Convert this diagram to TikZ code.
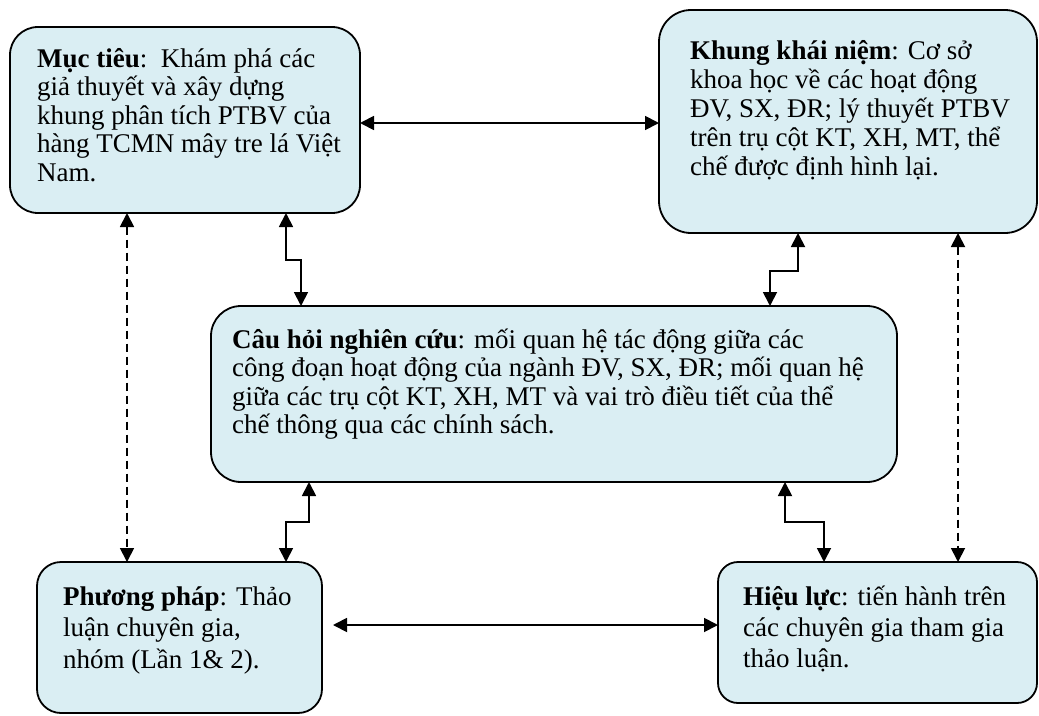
\documentclass[tikz,border=0pt]{standalone}
\usepackage{fontspec}
\setmainfont{Liberation Serif}
\usetikzlibrary{arrows.meta,calc}
\definecolor{boxfill}{HTML}{DAEEF3}
% fixed line pitch inside the text blocks, whatever the accents
\lineskiplimit=-100pt
\lineskip=0pt
\newcommand{\firststrut}{\rule{0pt}{26pt}}
\begin{document}
\begin{tikzpicture}[x=1pt,y=-1pt,
  box/.style={draw=black, line width=1.8pt, fill=boxfill, rounded corners=#1,
    inner sep=0pt, outer sep=0pt, anchor=north west},
  box/.default=28pt,
  txt/.style={inner sep=0pt, anchor=north west, align=left,
    font=\fontsize{27}{28.5}\selectfont},
  link/.style={line width=1.8pt, {Triangle[length=14pt,width=14pt]}-{Triangle[length=14pt,width=14pt]}},
  weaklink/.style={link, dash pattern=on 8pt off 5pt}]
\useasboundingbox (0,0) rectangle (1039,715);

% boxes
\node[box, minimum width=350pt, minimum height=186pt] (goal) at (10,27) {};
\node[box=32pt, minimum width=378pt, minimum height=223pt] (frame) at (659,10) {};
\node[box=30pt, minimum width=686pt, minimum height=176pt] (question) at (211,306) {};
\node[box=24pt, minimum width=285pt, minimum height=151pt] (method) at (37,562) {};
\node[box=20pt, minimum width=319pt, minimum height=141pt] (validity) at (718,562) {};

% texts
\node[txt] (goal-t) at (37,41) {\firststrut\textbf{Mục tiêu}:\ \ Khám phá các\\
  giả thuyết và xây dựng\\ khung phân tích PTBV của\\ hàng TCMN mây tre lá Việt\\ Nam.};
\node[txt, font=\fontsize{27}{29}\selectfont] (frame-t) at (690,33) {\firststrut\textbf{Khung khái niệm}: Cơ sở\\
  khoa học về các hoạt động\\ ĐV, SX, ĐR; lý thuyết PTBV\\ trên trụ cột KT, XH, MT, thể\\
  chế được định hình lại.};
\node[txt] (question-t) at (232,322)
  {\firststrut\textbf{Câu hỏi nghiên cứu}: mối quan hệ tác động giữa các\\
  công đoạn hoạt động của ngành ĐV, SX, ĐR; mối quan hệ\\
  giữa các trụ cột KT, XH, MT và vai trò điều tiết của thể\\
  chế thông qua các chính sách.};
\node[txt, font=\fontsize{27}{31.5}\selectfont] (method-t) at (63,579)
  {\firststrut\textbf{Phương pháp}: Thảo\\ luận chuyên gia,\\ nhóm (Lần 1\& 2).};
\node[txt, font=\fontsize{27}{31}\selectfont] (validity-t) at (743,579)
  {\firststrut\textbf{Hiệu lực}: tiến hành trên\\ các chuyên gia tham gia\\ thảo luận.};

% connectors
\draw[link] ([yshift=-3pt]goal.east) -- ([yshift=-3pt]goal.east -| frame.west);
\draw[link] ($(method.north east)+(11,63)$) coordinate (m-r) -- (m-r -| validity.west);

\draw[weaklink] ([xshift=117pt]goal.south west) coordinate (g-d) -- (g-d |- method.north);
\draw[weaklink] ([xshift=299pt]frame.south west) coordinate (f-d) -- (f-d |- validity.north);

\draw[link] ([xshift=276pt]goal.south west) -- ++(0,47) -| ([xshift=90pt]question.north west);
\draw[link] ([xshift=139pt]frame.south west) -- ++(0,38) -| ([xshift=559pt]question.north west);
\draw[link] ([xshift=98pt]question.south west) -- ++(0,40) -| ([xshift=249pt]method.north west);
\draw[link] ([xshift=574pt]question.south west) -- ++(0,40) -| ([xshift=106pt]validity.north west);
\end{tikzpicture}
\end{document}
